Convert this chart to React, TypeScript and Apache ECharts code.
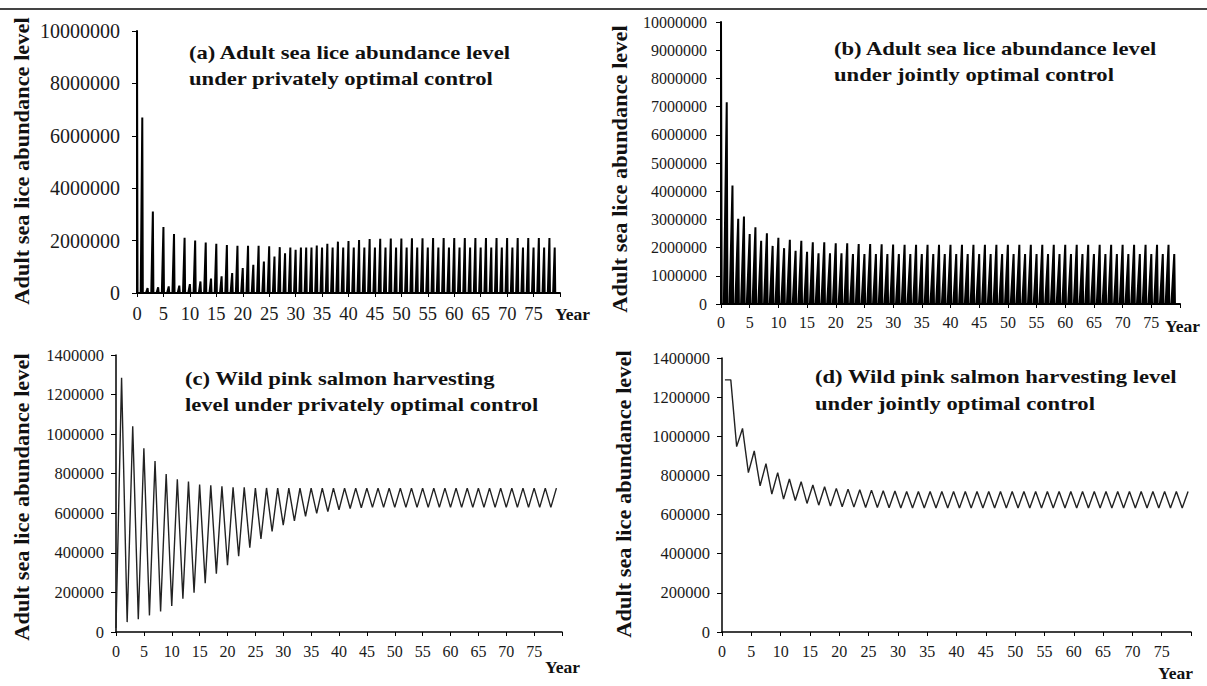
import React, { useEffect, useRef } from 'react';
import * as echarts from 'echarts';

// ---- data ----
const YEARS: number[] = Array.from({ length: 80 }, (_, i) => i);
const X_TICK_LABELS = [0, 5, 10, 15, 20, 25, 30, 35, 40, 45, 50, 55, 60, 65, 70, 75];
const Y_TICKS_A = [0, 2000000, 4000000, 6000000, 8000000, 10000000];
const Y_TICKS_B = [0, 1000000, 2000000, 3000000, 4000000, 5000000, 6000000, 7000000, 8000000, 9000000, 10000000];
const Y_TICKS_CD = [0, 200000, 400000, 600000, 800000, 1000000, 1200000, 1400000];

// (a) adult sea lice, privately optimal control (annual peaks)
const LICE_PRIVATE = [
  10000000, 6700000, 190000, 3110000, 220000, 2520000, 250000, 2250000, 280000, 2110000,
  340000, 2000000, 440000, 1930000, 550000, 1880000, 640000, 1830000, 760000, 1800000,
  950000, 1800000, 1080000, 1800000, 1200000, 1780000, 1390000, 1750000, 1520000, 1740000,
  1650000, 1740000, 1740000, 1740000, 1810000, 1740000, 1880000, 1740000, 1960000, 1740000,
  1980000, 1740000, 2020000, 1740000, 2060000, 1740000, 2070000, 1740000, 2080000, 1740000,
  2080000, 1740000, 2090000, 1740000, 2090000, 1740000, 2100000, 1740000, 2100000, 1740000,
  2100000, 1740000, 2100000, 1740000, 2100000, 1740000, 2100000, 1740000, 2100000, 1740000,
  2100000, 1740000, 2100000, 1740000, 2100000, 1740000, 2100000, 1740000, 2100000, 1740000,
];

// (b) adult sea lice, jointly optimal control (annual peaks)
const LICE_JOINT = [
  10000000, 7150000, 4200000, 3020000, 3100000, 2480000, 2720000, 2240000, 2510000, 2060000,
  2350000, 1980000, 2280000, 1890000, 2240000, 1850000, 2190000, 1800000, 2190000, 1800000,
  2150000, 1800000, 2150000, 1770000, 2130000, 1770000, 2130000, 1770000, 2120000, 1770000,
  2110000, 1770000, 2100000, 1770000, 2100000, 1770000, 2100000, 1770000, 2100000, 1770000,
  2100000, 1770000, 2100000, 1770000, 2100000, 1770000, 2100000, 1770000, 2100000, 1770000,
  2100000, 1770000, 2100000, 1770000, 2100000, 1770000, 2100000, 1770000, 2100000, 1770000,
  2100000, 1770000, 2100000, 1770000, 2100000, 1770000, 2100000, 1770000, 2100000, 1770000,
  2100000, 1770000, 2100000, 1770000, 2100000, 1770000, 2100000, 1770000, 2100000, 1770000,
];

// (c) wild pink salmon harvest, privately optimal control
const HARVEST_PRIVATE = [
  20000, 1285000, 50000, 1040000, 64000, 928000, 84000, 864000, 104000, 799000,
  131000, 772000, 168000, 760000, 199000, 745000, 247000, 741000, 295000, 736000,
  337000, 731000, 383000, 731000, 426000, 728000, 470000, 728000, 508000, 727000,
  540000, 727000, 562000, 727000, 585000, 727000, 600000, 727000, 608000, 727000,
  618000, 727000, 624000, 727000, 628000, 727000, 630000, 727000, 630000, 727000,
  630000, 727000, 630000, 727000, 630000, 727000, 630000, 727000, 630000, 727000,
  630000, 727000, 630000, 727000, 630000, 727000, 630000, 727000, 630000, 727000,
  630000, 727000, 630000, 727000, 630000, 727000, 630000, 727000, 630000, 727000,
];

// (d) wild pink salmon harvest, jointly optimal control
const HARVEST_JOINT = [
  1288000, 1288000, 947000, 1040000, 814000, 925000, 747000, 860000, 705000, 814000,
  679000, 782000, 672000, 768000, 657000, 751000, 648000, 742000, 643000, 734000,
  640000, 730000, 638000, 727000, 636000, 725000, 636000, 722000, 635000, 720000,
  634000, 718000, 634000, 718000, 634000, 718000, 634000, 718000, 634000, 718000,
  634000, 718000, 634000, 718000, 634000, 718000, 634000, 718000, 634000, 718000,
  634000, 718000, 634000, 718000, 634000, 718000, 634000, 718000, 634000, 718000,
  634000, 718000, 634000, 718000, 634000, 718000, 634000, 718000, 634000, 718000,
  634000, 718000, 634000, 718000, 634000, 718000, 634000, 718000, 634000, 718000,
];

const TITLE_A = ['(a) Adult sea lice abundance level', 'under privately optimal control'];
const TITLE_B = ['(b) Adult sea lice abundance level', 'under jointly optimal control'];
const TITLE_C = ['(c) Wild pink salmon harvesting', 'level under privately optimal control'];
const TITLE_D = ['(d) Wild pink salmon harvesting level', 'under jointly optimal control'];
const Y_NAME = 'Adult sea lice abundance level';
const X_NAME = 'Year';

// ---- styling / layout ----
const FONT = 'Liberation Serif, Times New Roman, Times, serif';
const X_MAX = 80;

// build spike (seasonal peak) shapes from annual peak values
function spikes(values: number[], riseWidth: number, fallWidth: number) {
  const pts: number[][] = [];
  values.forEach((v, i) => {
    const x = YEARS[i];
    if (x - riseWidth > 0) pts.push([x - riseWidth, 0]);
    pts.push([x, v]);
    pts.push([x + fallWidth, 0]);
  });
  return pts;
}

function xAxis(gridIndex: number, fontSize: number, margin: number, axisWidth: number) {
  return {
    type: 'value',
    gridIndex,
    min: 0,
    max: X_MAX,
    interval: X_TICK_LABELS[1] - X_TICK_LABELS[0],
    axisLine: { show: true, onZero: false, lineStyle: { color: '#000', width: axisWidth } },
    axisTick: { show: true, length: 4, lineStyle: { color: '#000', width: 1 } },
    splitLine: { show: false },
    axisLabel: {
      fontFamily: FONT,
      fontSize,
      color: '#1a1a1a',
      margin,
      showMaxLabel: true,
      formatter: (v: number) => (X_TICK_LABELS.indexOf(v) >= 0 ? String(v) : ''),
    },
  };
}

function yAxis(gridIndex: number, ticks: number[], fontSize: number, margin: number, axisWidth: number) {
  return {
    type: 'value',
    gridIndex,
    min: ticks[0],
    max: ticks[ticks.length - 1],
    interval: ticks[1] - ticks[0],
    axisLine: { show: true, onZero: false, lineStyle: { color: '#000', width: axisWidth } },
    axisTick: { show: true, length: 5, lineStyle: { color: '#000', width: 1 } },
    splitLine: { show: false },
    axisLabel: {
      fontFamily: FONT,
      fontSize,
      color: '#1a1a1a',
      margin,
      formatter: (v: number) => String(v),
    },
  };
}

function titleText(lines: string[], x: number, y1: number, y2: number) {
  return lines.map((t, k) => ({
    type: 'text',
    x,
    y: k === 0 ? y1 : y2,
    scaleX: 1.16,
    silent: true,
    style: {
      text: t,
      fill: '#111',
      fontFamily: FONT,
      fontWeight: 'bold',
      fontSize: 19.5,
      textAlign: 'left',
      textVerticalAlign: 'middle',
      align: 'left',
      verticalAlign: 'middle',
    },
  }));
}

function yName(x: number, y: number) {
  return {
    type: 'text',
    x,
    y,
    rotation: Math.PI / 2,
    scaleX: 1.12,
    silent: true,
    style: {
      text: Y_NAME,
      fill: '#111',
      fontFamily: FONT,
      fontWeight: 'bold',
      fontSize: 20,
      textAlign: 'center',
      textVerticalAlign: 'middle',
      align: 'center',
      verticalAlign: 'middle',
    },
  };
}

function yearText(x: number, y: number) {
  return {
    type: 'text',
    x,
    y,
    silent: true,
    style: {
      text: X_NAME,
      fill: '#111',
      fontFamily: FONT,
      fontWeight: 'bold',
      fontSize: 17.5,
      textAlign: 'left',
      textVerticalAlign: 'middle',
      align: 'left',
      verticalAlign: 'middle',
    },
  };
}

export default function App() {
  const ref = useRef<HTMLDivElement>(null);

  useEffect(() => {
    if (!ref.current) return;
    const chart = echarts.init(ref.current, undefined, { renderer: 'svg' });

    const option: any = {
      animation: false,
      backgroundColor: '#ffffff',
      grid: [
        { left: 137, top: 31, width: 423, height: 262 },
        { left: 721, top: 22, width: 459, height: 282 },
        { left: 116, top: 355, width: 446, height: 277 },
        { left: 722, top: 358, width: 469, height: 274 },
      ],
      xAxis: [
        xAxis(0, 18.5, 11, 2),
        xAxis(1, 16, 10, 2),
        xAxis(2, 16, 11, 1.5),
        xAxis(3, 16, 11, 1.5),
      ],
      yAxis: [
        yAxis(0, Y_TICKS_A, 20, 17, 2),
        yAxis(1, Y_TICKS_B, 16, 14, 2),
        yAxis(2, Y_TICKS_CD, 16.5, 12, 1.5),
        yAxis(3, Y_TICKS_CD, 16.5, 12, 1.5),
      ],
      series: [
        {
          type: 'line',
          xAxisIndex: 0,
          yAxisIndex: 0,
          data: spikes(LICE_PRIVATE, 0.3, 0.1),
          symbol: 'none',
          silent: true,
          lineStyle: { color: '#000', width: 2 },
          areaStyle: { color: '#000', opacity: 1 },
        },
        {
          type: 'line',
          xAxisIndex: 1,
          yAxisIndex: 1,
          data: spikes(LICE_JOINT, 0.5, 0.12),
          symbol: 'none',
          silent: true,
          lineStyle: { color: '#000', width: 2 },
          areaStyle: { color: '#000', opacity: 1 },
        },
        {
          type: 'line',
          xAxisIndex: 2,
          yAxisIndex: 2,
          data: HARVEST_PRIVATE.map((v, i) => [YEARS[i], v]),
          symbol: 'none',
          silent: true,
          lineStyle: { color: '#222', width: 1.4 },
        },
        {
          type: 'line',
          xAxisIndex: 3,
          yAxisIndex: 3,
          // Excel category axis: points sit mid-way between tick marks
          data: HARVEST_JOINT.map((v, i) => [YEARS[i] + 0.5, v]),
          symbol: 'none',
          silent: true,
          lineStyle: { color: '#222', width: 1.4 },
        },
      ],
      graphic: [
        {
          type: 'line',
          silent: true,
          shape: { x1: 0, y1: 9, x2: 1207, y2: 9 },
          style: { stroke: '#444', lineWidth: 2 },
        },
        ...titleText(TITLE_A, 189, 53, 79),
        ...titleText(TITLE_B, 834, 49, 75),
        ...titleText(TITLE_C, 185, 379, 405),
        ...titleText(TITLE_D, 815, 377, 404),
        yName(22, 161),
        yName(620, 169),
        yName(22, 497),
        yName(624, 494),
        yearText(555, 314),
        yearText(1165, 326),
        yearText(545, 667),
        yearText(1158, 673),
      ],
    };

    chart.setOption(option);
    return () => {
      chart.dispose();
    };
  }, []);

  return (
    <div
      ref={ref}
      style={{ position: 'fixed', left: 0, top: 0, width: 1207, height: 686, background: '#fff' }}
    />
  );
}
